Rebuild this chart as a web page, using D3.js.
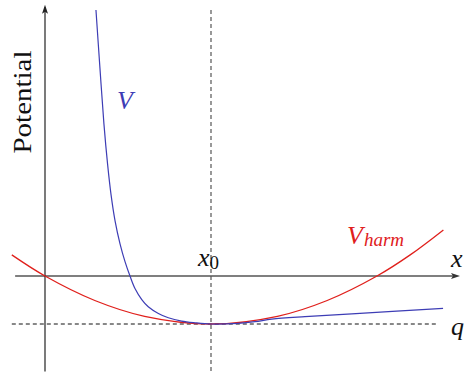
<!DOCTYPE html>
<html>
<head>
<meta charset="utf-8">
<script src="https://cdn.jsdelivr.net/npm/d3@7"></script>
<style>
  body { margin: 0; background: #fff; }
  svg { display: block; }
  text { font-family: "Liberation Serif", "DejaVu Serif", serif; }
</style>
</head>
<body>
<svg id="chart" width="466" height="374"></svg>
<script>
// values, x0 = 1 and q level = -1
var vX = [0.307, 0.331, 0.355, 0.377, 0.398, 0.422, 0.452, 0.482, 0.512, 0.542, 0.583, 0.622, 0.683, 0.743, 0.823, 0.904, 1.0, 1.164, 1.265, 1.366, 1.566, 1.848, 2.398];
var vY = [5.54, 4.33, 3.17, 2.33, 1.69, 1.15, 0.67, 0.30, 0.0, -0.26, -0.49, -0.64, -0.78, -0.87, -0.94, -0.975, -1.0, -0.985, -0.952, -0.90, -0.848, -0.79, -0.673];

var harmX = [-0.2, 0, 0.3, 0.6, 1.0, 1.4, 1.7, 2.0, 2.2, 2.4];
var harmY = [0.44, 0, -0.51, -0.84, -1.0, -0.84, -0.51, 0, 0.44, 0.96];

var x0 = 1;
var qLevel = -1;

var svg = d3.select("#chart");

var x = d3.scaleLinear().domain([0, 1]).range([45, 211]);
var y = d3.scaleLinear().domain([0, -1]).range([276, 324]);

var blue = "#3d3db5";
var red = "#e0201c";

function arrowHead(tx, ty, dir) {
	// little filled latex-ish arrow
	var p;
	if (dir == "up") {
		p = [[tx, ty], [tx - 3, ty + 9], [tx, ty + 7], [tx + 3, ty + 9]];
	} else {
		p = [[tx, ty], [tx - 9, ty - 3], [tx - 7, ty], [tx - 9, ty + 3]];
	}
	return "M" + p.map(function(d) { return d.join(","); }).join("L") + "Z";
}

// axes
svg.append("line")
	.attr("x1", x(-0.18)).attr("x2", x(2.48))
	.attr("y1", y(0)).attr("y2", y(0))
	.attr("stroke", "#555").attr("stroke-width", 1.5);
svg.append("path")
	.attr("d", arrowHead(x(2.5), y(0), "right"))
	.attr("fill", "#333");

svg.append("line")
	.attr("x1", x(0)).attr("x2", x(0))
	.attr("y1", y(-1.99)).attr("y2", y(5.6))
	.attr("stroke", "#222").attr("stroke-width", 1.2);
svg.append("path")
	.attr("d", arrowHead(x(0), y(5.65), "up"))
	.attr("fill", "#222");

// dashed guides
svg.append("line")
	.attr("x1", x(x0)).attr("x2", x(x0))
	.attr("y1", y(5.54)).attr("y2", y(-1.99))
	.attr("stroke", "#555").attr("stroke-width", 1.2)
	.attr("stroke-dasharray", "4,3");
svg.append("line")
	.attr("x1", x(-0.2)).attr("x2", x(2.37))
	.attr("y1", y(qLevel)).attr("y2", y(qLevel))
	.attr("stroke", "#111").attr("stroke-width", 1)
	.attr("stroke-dasharray", "4,3");

var line = d3.line()
	.x(function(d) { return x(d[0]); })
	.y(function(d) { return y(d[1]); })
	.curve(d3.curveCatmullRom.alpha(0.5));

svg.append("path")
	.datum(d3.zip(harmX, harmY))
	.attr("d", line)
	.attr("fill", "none")
	.attr("stroke", red)
	.attr("stroke-width", 1.3);

svg.append("path")
	.datum(d3.zip(vX, vY))
	.attr("d", line)
	.attr("fill", "none")
	.attr("stroke", blue)
	.attr("stroke-width", 1.2);

// labels
svg.append("text")
	.attr("transform", "translate(31,102) rotate(-90)")
	.attr("text-anchor", "middle")
	.attr("font-size", 25)
	.attr("textLength", 103)
	.attr("lengthAdjust", "spacingAndGlyphs")
	.attr("fill", "#111")
	.text("Potential");

svg.append("text")
	.attr("x", 117).attr("y", 109)
	.attr("font-size", 26)
	.attr("font-style", "italic")
	.attr("fill", blue)
	.text("V");

var vh = svg.append("text")
	.attr("x", 347).attr("y", 244)
	.attr("font-size", 26)
	.attr("font-style", "italic")
	.attr("fill", red);
vh.append("tspan").text("V");
vh.append("tspan").attr("font-size", 19).attr("dx", 1).attr("dy", 2).text("harm");

svg.append("text")
	.attr("x", 451).attr("y", 267)
	.attr("font-size", 26)
	.attr("font-style", "italic")
	.attr("fill", "#111")
	.text("x");

var xl = svg.append("text")
	.attr("x", 198).attr("y", 266)
	.attr("font-size", 26)
	.attr("fill", "#111");
xl.append("tspan").attr("font-style", "italic").text("x");
xl.append("tspan").attr("font-size", 19).attr("dy", 3).text("0");

svg.append("text")
	.attr("x", 451).attr("y", 335)
	.attr("font-size", 26)
	.attr("font-style", "italic")
	.attr("fill", "#111")
	.text("q");
</script>
</body>
</html>
